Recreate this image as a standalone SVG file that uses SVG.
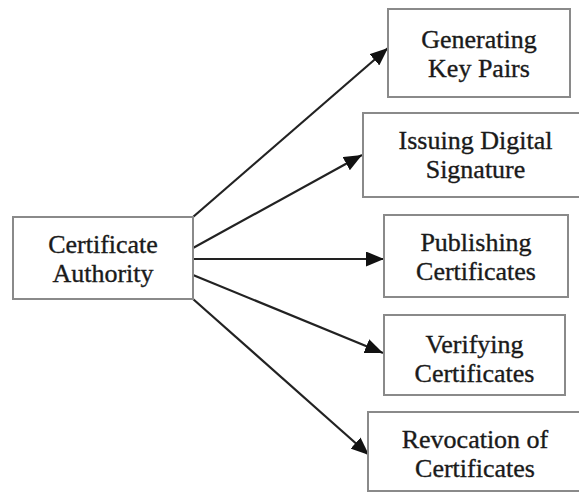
<svg xmlns="http://www.w3.org/2000/svg" width="579" height="493" viewBox="0 0 579 493">
  <style>
    .box { fill: #ffffff; stroke: #8a8a8a; stroke-width: 2; }
    .label { font-family: "Liberation Serif", "Times New Roman", serif; font-size: 26px; fill: #1a1a1a; stroke: #1a1a1a; stroke-width: 0.35; text-anchor: middle; }
    .link { stroke: #222222; stroke-width: 2.2; fill: none; marker-end: url(#arrow); }
  </style>
  <defs>
    <marker id="arrow" markerUnits="userSpaceOnUse" markerWidth="19" markerHeight="15" refX="18" refY="7.5" orient="auto">
      <path d="M0,0 L18,7.5 L0,15 Z" fill="#111111"/>
    </marker>
  </defs>
  <rect width="579" height="493" fill="#ffffff"/>

  <g id="connectors">
    <line class="link" x1="193" y1="217" x2="388" y2="48"/>
    <line class="link" x1="193" y1="248" x2="362" y2="155"/>
    <line class="link" x1="193" y1="259" x2="384" y2="259"/>
    <line class="link" x1="193" y1="275" x2="383" y2="353"/>
    <line class="link" x1="193" y1="299" x2="369" y2="455"/>
  </g>

  <g id="certificate-authority">
    <rect class="box" x="13" y="217" width="180" height="82"/>
    <text class="label" x="103" y="253">Certificate</text>
    <text class="label" x="103" y="282">Authority</text>
  </g>

  <g id="generating-key-pairs">
    <rect class="box" x="388" y="9" width="182" height="88"/>
    <text class="label" x="479" y="48">Generating</text>
    <text class="label" x="479" y="77">Key Pairs</text>
  </g>

  <g id="issuing-digital-signature">
    <rect class="box" x="363" y="113" width="225" height="84"/>
    <text class="label" x="475.5" y="149">Issuing Digital</text>
    <text class="label" x="475.5" y="178">Signature</text>
  </g>

  <g id="publishing-certificates">
    <rect class="box" x="384" y="215" width="184" height="82"/>
    <text class="label" x="476" y="251">Publishing</text>
    <text class="label" x="476" y="280">Certificates</text>
  </g>

  <g id="verifying-certificates">
    <rect class="box" x="384" y="315" width="181" height="80"/>
    <text class="label" x="474.5" y="353">Verifying</text>
    <text class="label" x="474.5" y="382">Certificates</text>
  </g>

  <g id="revocation-of-certificates">
    <rect class="box" x="368" y="412" width="215" height="79"/>
    <text class="label" x="475" y="448">Revocation of</text>
    <text class="label" x="475" y="477">Certificates</text>
  </g>
</svg>
